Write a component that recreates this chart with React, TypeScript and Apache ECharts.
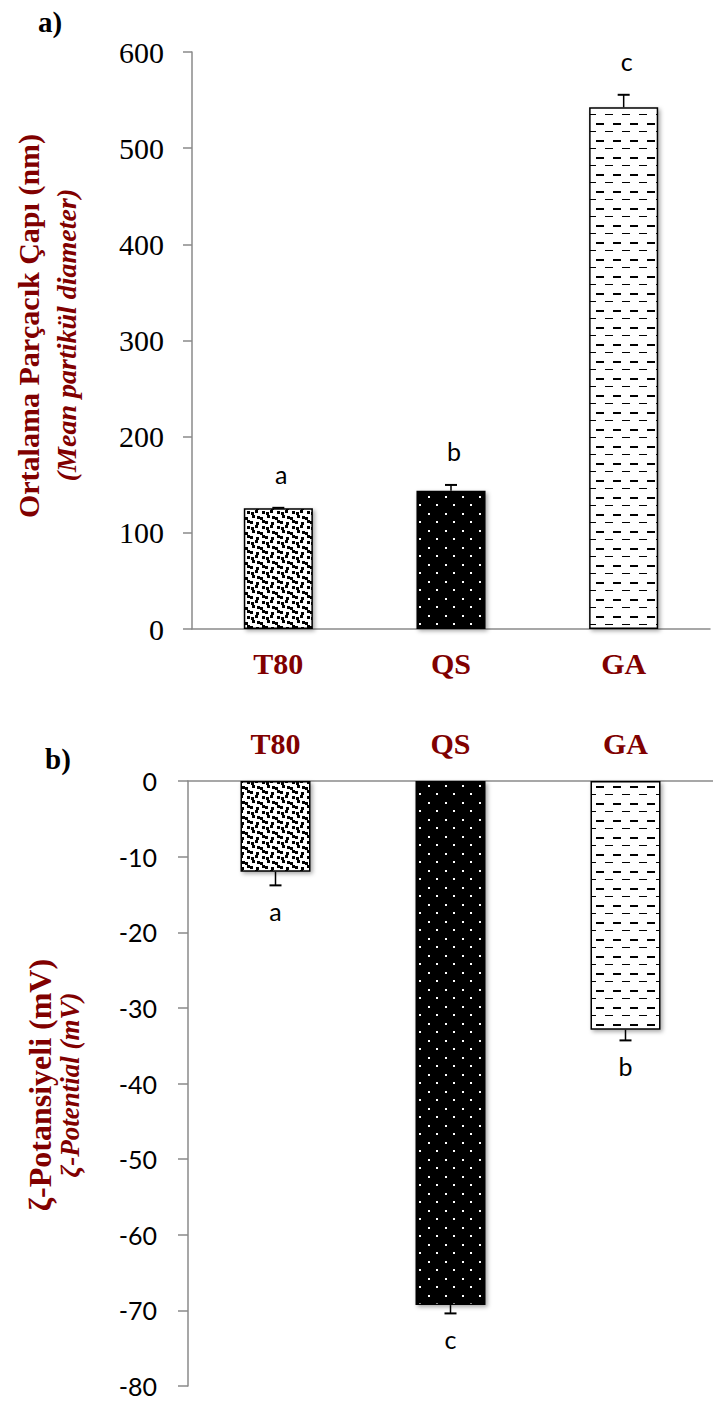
import React, { useEffect, useRef } from "react";
import * as echarts from "echarts";

const categories = ["T80", "QS", "GA"];
const sizeValues = [125.5, 143.8, 542.5];
const sizeErrors = [0.5, 6, 13];
const sizeLetters = ["a", "b", "c"];
const zetaValues = [-12.0, -69.3, -32.9];
const zetaErrors = [1.8, 1.1, 1.4];
const zetaLetters = ["a", "c", "b"];
const sizeAxis = { min: 0, max: 600, interval: 100 };
const zetaAxis = { min: -80, max: 0, interval: 10 };
const sizeTitle = "Ortalama Parçacık Çapı (nm)";
const sizeSubtitle = "(Mean partikül diameter)";
const zetaTitle = "ζ-Potansiyeli (mV)";
const zetaSubtitle = "ζ-Potential (mV)";

const DARKRED = "#800000";
const AXIS = "#8a8a8a";
const SERIF = "Liberation Serif";
const SANS = "Lato";

function makePattern(kind: string): HTMLCanvasElement {
  const c = document.createElement("canvas");
  if (kind === "confetti") {
    c.width = 15;
    c.height = 15;
    const g = c.getContext("2d")!;
    g.fillStyle = "#fff";
    g.fillRect(0, 0, 15, 15);
    g.fillStyle = "#000";
    const offs = [
      [[0, 0], [2, 1], [1, 2]],
      [[2, 1], [0, 2], [2, 0]],
      [[1, 2], [2, 0], [0, 1]],
    ];
    for (let r = 0; r < 3; r++) {
      for (let col = 0; col < 3; col++) {
        const [ox, oy] = offs[r][col];
        g.fillRect(col * 5 + ox, r * 5 + oy, 3, 3);
      }
    }
  } else if (kind === "dots") {
    c.width = 17;
    c.height = 17;
    const g = c.getContext("2d")!;
    g.fillStyle = "#000";
    g.fillRect(0, 0, 17, 17);
    g.fillStyle = "#fff";
    g.fillRect(3, 3, 2, 2);
    g.fillRect(11, 11, 2, 2);
  } else {
    c.width = 17;
    c.height = 17;
    const g = c.getContext("2d")!;
    g.fillStyle = "#fff";
    g.fillRect(0, 0, 17, 17);
    g.fillStyle = "#000";
    g.fillRect(1, 4, 8, 2);
    g.fillRect(10, 12, 7, 1);
    g.fillRect(0, 12, 1, 1);
  }
  return c;
}

function errorSeries(
  values: number[],
  errors: number[],
  letters: string[],
  axisIndex: number,
  letterOffset: number,
  letterDx: number
) {
  return {
    type: "custom",
    xAxisIndex: axisIndex,
    yAxisIndex: axisIndex,
    data: values.map((v, i) => [i, v, errors[i]]),
    z: 10,
    renderItem: (params: any, api: any) => {
      const i = api.value(0);
      const v = api.value(1);
      const e = api.value(2);
      const sign = v >= 0 ? 1 : -1;
      const base = api.coord([i, v]);
      const end = api.coord([i, v + sign * e]);
      const cap = 6;
      return {
        type: "group",
        children: [
          {
            type: "line",
            shape: { x1: base[0], y1: base[1], x2: end[0], y2: end[1] },
            style: { stroke: "#000", lineWidth: 1.5 },
          },
          {
            type: "line",
            shape: { x1: end[0] - cap, y1: end[1], x2: end[0] + cap, y2: end[1] },
            style: { stroke: "#000", lineWidth: 2 },
          },
          {
            type: "text",
            x: end[0] + letterDx,
            y: end[1] - sign * letterOffset,
            style: {
              text: letters[params.dataIndex],
              fill: "#000",
              fontSize: 25,
              fontFamily: SANS,
              align: "center",
              verticalAlign: "middle",
            },
          },
        ],
      };
    },
  };
}

export default function App() {
  const ref = useRef<HTMLDivElement>(null);

  useEffect(() => {
    document.body.style.margin = "0";
    const chart = echarts.init(ref.current!, undefined, { renderer: "svg" });
    const patterns = [makePattern("confetti"), makePattern("dots"), makePattern("dashes")];
    const barItem = (v: number, i: number) => ({
      value: v,
      itemStyle: {
        color: { image: patterns[i], repeat: "repeat" },
        borderColor: "#000",
        borderWidth: 1.5,
        shadowColor: "rgba(0,0,0,0.35)",
        shadowBlur: 4,
        shadowOffsetX: 2,
        shadowOffsetY: 2,
      },
    });

    const option: any = {
      animation: false,
      backgroundColor: "#fff",
      grid: [
        { left: 192, top: 52, width: 518, height: 577 },
        { left: 188, top: 781, width: 537, height: 605 },
      ],
      xAxis: [
        {
          type: "category",
          gridIndex: 0,
          data: categories,
          position: "bottom",
          axisLine: { lineStyle: { color: AXIS, width: 1.5 } },
          axisTick: { length: 9, lineStyle: { color: AXIS, width: 1.5 } },
          axisLabel: {
            margin: 19,
            color: DARKRED,
            fontFamily: SERIF,
            fontWeight: "bold",
            fontSize: 30,
          },
        },
        {
          type: "category",
          gridIndex: 1,
          data: categories,
          position: "top",
          axisLine: { onZero: false, lineStyle: { color: AXIS, width: 1.5 } },
          axisTick: { inside: true, length: 9, lineStyle: { color: AXIS, width: 1.5 } },
          axisLabel: {
            margin: 23,
            color: DARKRED,
            fontFamily: SERIF,
            fontWeight: "bold",
            fontSize: 30,
          },
        },
      ],
      yAxis: [
        {
          type: "value",
          gridIndex: 0,
          min: sizeAxis.min,
          max: sizeAxis.max,
          interval: sizeAxis.interval,
          splitLine: { show: false },
          axisLine: { show: true, lineStyle: { color: AXIS, width: 1.5 } },
          axisTick: { show: true, length: 9, lineStyle: { color: AXIS, width: 1.5 } },
          axisLabel: { margin: 28, color: "#000", fontFamily: SERIF, fontSize: 30 },
        },
        {
          type: "value",
          gridIndex: 1,
          min: zetaAxis.min,
          max: zetaAxis.max,
          interval: zetaAxis.interval,
          splitLine: { show: false },
          axisLine: { show: true, onZero: false, lineStyle: { color: AXIS, width: 1.5 } },
          axisTick: { show: true, length: 10, lineStyle: { color: AXIS, width: 1.5 } },
          axisLabel: { margin: 31, color: "#000", fontFamily: SANS, fontSize: 25 },
        },
      ],
      series: [
        {
          type: "bar",
          xAxisIndex: 0,
          yAxisIndex: 0,
          barWidth: "40%",
          data: sizeValues.map(barItem),
        },
        {
          type: "bar",
          xAxisIndex: 1,
          yAxisIndex: 1,
          barWidth: "40%",
          data: zetaValues.map(barItem),
        },
        errorSeries(sizeValues, sizeErrors, sizeLetters, 0, 34, 3),
        errorSeries(zetaValues, zetaErrors, zetaLetters, 1, 26, 0),
      ],
      graphic: [
        {
          type: "text",
          x: 50,
          y: 22,
          style: {
            text: "a)",
            fill: "#000",
            fontFamily: SERIF,
            fontWeight: "bold",
            fontSize: 29,
            align: "center",
            verticalAlign: "middle",
          },
        },
        {
          type: "text",
          x: 58,
          y: 759,
          style: {
            text: "b)",
            fill: "#000",
            fontFamily: SERIF,
            fontWeight: "bold",
            fontSize: 29,
            align: "center",
            verticalAlign: "middle",
          },
        },
        {
          type: "text",
          x: 28,
          y: 326,
          rotation: Math.PI / 2,
          style: {
            text: sizeTitle,
            fill: DARKRED,
            fontFamily: SERIF,
            fontWeight: "bold",
            fontSize: 30,
            align: "center",
            verticalAlign: "middle",
          },
        },
        {
          type: "text",
          x: 66,
          y: 335,
          rotation: Math.PI / 2,
          style: {
            text: sizeSubtitle,
            fill: DARKRED,
            fontFamily: SERIF,
            fontWeight: "bold",
            fontStyle: "italic",
            fontSize: 28,
            align: "center",
            verticalAlign: "middle",
          },
        },
        {
          type: "text",
          x: 40,
          y: 1085,
          rotation: Math.PI / 2,
          style: {
            text: zetaTitle,
            fill: DARKRED,
            fontFamily: SERIF,
            fontWeight: "bold",
            fontSize: 32,
            align: "center",
            verticalAlign: "middle",
          },
        },
        {
          type: "text",
          x: 70,
          y: 1085,
          rotation: Math.PI / 2,
          style: {
            text: zetaSubtitle,
            fill: DARKRED,
            fontFamily: SERIF,
            fontWeight: "bold",
            fontStyle: "italic",
            fontSize: 27,
            align: "center",
            verticalAlign: "middle",
          },
        },
      ],
    };
    chart.setOption(option);
    return () => chart.dispose();
  }, []);

  return <div ref={ref} style={{ width: 713, height: 1401 }} />;
}
